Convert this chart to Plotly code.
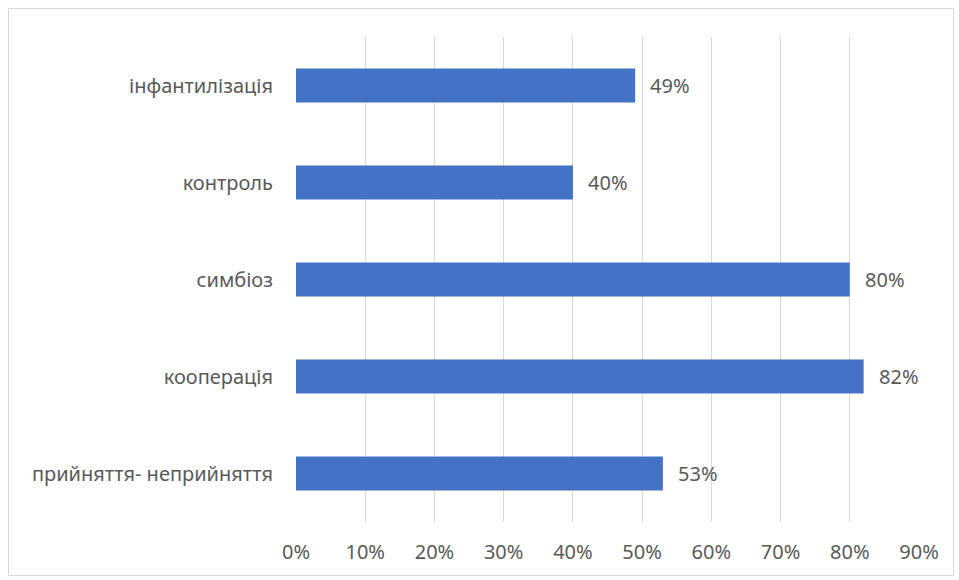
import plotly.graph_objects as go

# Parent-child relationship types and their shares
categories = ["прийняття- неприйняття", "кооперація", "симбіоз", "контроль", "інфантилізація"]
shares = [0.53, 0.82, 0.80, 0.40, 0.49]
tick_values = [0, 0.1, 0.2, 0.3, 0.4, 0.5, 0.6, 0.7, 0.8, 0.9]

W, H = 959, 580
L, R, T, B = 296, 40, 37, 58
pw, ph = W - L - R, H - T - B

text_color = "#595959"
font_family = "Noto Sans, Open Sans, sans-serif"
font_size = 20

fig = go.Figure()
fig.add_trace(go.Bar(
    x=shares,
    y=categories,
    orientation="h",
    marker=dict(color="#4472C4", line=dict(width=0)),
    hoverinfo="skip",
))

# value labels next to each bar
for c, v in zip(categories, shares):
    fig.add_annotation(
        x=v, y=c, xref="x", yref="y",
        text=f"{round(v * 100)}%",
        showarrow=False, xanchor="left", xshift=13,
        font=dict(size=font_size, color=text_color, family=font_family),
    )

# outer chart border
def px_to_paper_x(px):
    return (px - L) / pw

def px_to_paper_y(py):
    return (H - B - py) / ph

fig.add_shape(
    type="rect", xref="paper", yref="paper",
    x0=px_to_paper_x(8.5), x1=px_to_paper_x(953.5),
    y0=px_to_paper_y(575.5), y1=px_to_paper_y(8.5),
    line=dict(color="#d9d9d9", width=1), fillcolor="rgba(0,0,0,0)",
    layer="below",
)

fig.update_layout(
    width=W, height=H,
    margin=dict(l=L, r=R, t=T, b=B),
    paper_bgcolor="white", plot_bgcolor="white",
    bargap=0.65,
    showlegend=False,
    font=dict(family=font_family, size=font_size, color=text_color),
    xaxis=dict(
        range=[0, 0.9],
        tickvals=tick_values,
        tickformat=".0%",
        showgrid=True, gridcolor="#d9d9d9", gridwidth=1,
        zeroline=False, showline=False,
        ticks="outside", ticklen=12, tickcolor="rgba(0,0,0,0)",
        tickfont=dict(size=font_size, color=text_color),
        fixedrange=True,
    ),
    yaxis=dict(
        showgrid=False, zeroline=False, showline=False,
        ticks="outside", ticklen=18, tickcolor="rgba(0,0,0,0)",
        tickfont=dict(size=font_size, color=text_color),
        fixedrange=True,
    ),
)

fig.write_html("out.html")
